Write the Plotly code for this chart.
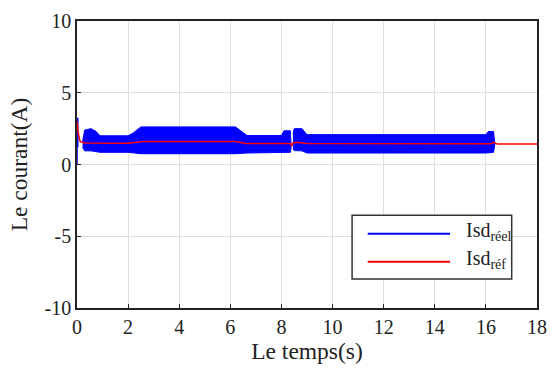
import plotly.graph_objects as go

# Envelope of the measured Isd (réel) oscillation band, two segments
seg1_t = [0.22, 0.3, 0.55, 0.75, 0.9, 2.0, 2.2, 2.5, 6.2, 6.45, 6.65, 8.0, 8.1, 8.35, 8.38]
seg1_up = [1.6, 2.4, 2.5, 2.3, 2.0, 2.0, 2.2, 2.62, 2.62, 2.3, 2.02, 2.02, 2.35, 2.35, 1.6]
seg1_lo = [1.2, 0.95, 0.95, 0.9, 0.85, 0.85, 0.8, 0.75, 0.75, 0.78, 0.8, 0.8, 0.85, 0.85, 1.2]

seg2_t = [8.45, 8.5, 8.8, 9.0, 16.0, 16.1, 16.3, 16.35]
seg2_up = [2.1, 2.5, 2.5, 2.08, 2.08, 2.3, 2.3, 1.5]
seg2_lo = [1.1, 0.97, 0.95, 0.8, 0.8, 0.8, 0.85, 1.4]

# Initial spike of the measured current
spike_t = [0.0, 0.0, 0.03, 0.03]
spike_v = [0.0, 3.2, 3.2, 1.2]

# Reference current Isd (réf)
ref_t = [0, 0.05, 0.12, 0.3, 2.0, 2.6, 6.2, 6.6, 8.35, 8.4, 8.45, 8.6, 9.0, 16.2, 16.3, 16.45, 18]
ref_v = [3.0, 2.2, 1.6, 1.5, 1.48, 1.6, 1.6, 1.47, 1.47, 1.3, 1.5, 1.55, 1.47, 1.45, 1.55, 1.42, 1.42]

x_ticks = [0, 2, 4, 6, 8, 10, 12, 14, 16, 18]
y_ticks = [-10, -5, 0, 5, 10]

BLUE = "#0000FF"
RED = "#FF0000"
FONT = "Liberation Serif"

band_x = seg1_t + seg1_t[::-1] + [None] + seg2_t + seg2_t[::-1]
band_y = seg1_up + seg1_lo[::-1] + [None] + seg2_up + seg2_lo[::-1]

fig = go.Figure()
fig.add_trace(go.Scatter(x=band_x, y=band_y, fill="toself", fillcolor=BLUE,
                         mode="lines", line=dict(color=BLUE, width=1),
                         showlegend=False, hoverinfo="skip"))
fig.add_trace(go.Scatter(x=spike_t, y=spike_v, mode="lines",
                         line=dict(color=BLUE, width=1.5), showlegend=False))
fig.add_trace(go.Scatter(x=ref_t, y=ref_v, mode="lines",
                         line=dict(color=RED, width=1.5), showlegend=False))

axis_common = dict(showline=True, linecolor="#222", linewidth=1.5, mirror=True,
                   ticks="inside", ticklen=4, tickcolor="#222",
                   showgrid=True, gridcolor="#dedede", gridwidth=1,
                   zeroline=False, tickfont=dict(family=FONT, size=20, color="#222"))

fig.update_xaxes(range=[0, 18], tickvals=x_ticks, ticktext=[str(v) for v in x_ticks],
                 title=dict(text="Le temps(s)", font=dict(family=FONT, size=23.5, color="#222"), standoff=2),
                 **axis_common)
fig.update_yaxes(range=[-10, 10], tickvals=y_ticks, ticktext=[str(v) for v in y_ticks],
                 title=dict(text="Le courant(A)", font=dict(family=FONT, size=23.5, color="#222"), standoff=10),
                 **axis_common)

# Manual legend (box, long line samples, labels)
shapes = [
    dict(type="rect", xref="paper", yref="paper", x0=0.598, x1=0.945, y0=0.101, y1=0.323,
         line=dict(color="#333", width=1.5), fillcolor="white", layer="above"),
    dict(type="line", xref="paper", yref="paper", x0=0.632, x1=0.811, y0=0.259, y1=0.259,
         line=dict(color=BLUE, width=2), layer="above"),
    dict(type="line", xref="paper", yref="paper", x0=0.632, x1=0.811, y0=0.161, y1=0.161,
         line=dict(color=RED, width=2), layer="above"),
]
annotations = [
    dict(xref="paper", yref="paper", x=0.842, y=0.268, xanchor="left", yanchor="middle",
         text="Isd<sub>réel</sub>", showarrow=False, font=dict(family=FONT, size=20, color="#222")),
    dict(xref="paper", yref="paper", x=0.842, y=0.170, xanchor="left", yanchor="middle",
         text="Isd<sub>réf</sub>", showarrow=False, font=dict(family=FONT, size=20, color="#222")),
]

fig.update_layout(width=557, height=374, margin=dict(l=77, r=10, t=20, b=66),
                  plot_bgcolor="white", paper_bgcolor="white",
                  shapes=shapes, annotations=annotations, showlegend=False)

fig.write_html("out.html")
